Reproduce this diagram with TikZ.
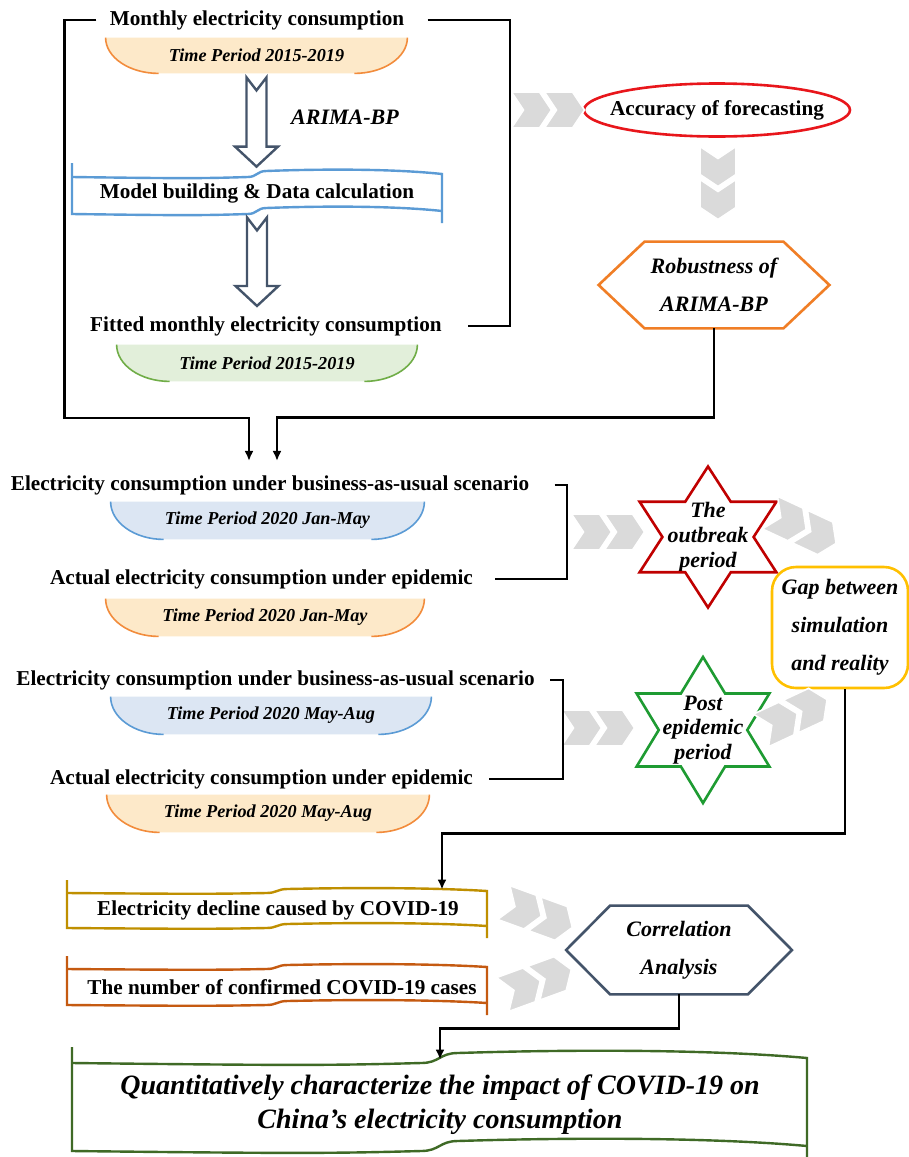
\documentclass[tikz,border=0pt]{standalone}
\usepackage{fontspec}
\setmainfont{Liberation Serif}
\usetikzlibrary{calc,arrows.meta,backgrounds}

\definecolor{tabor}{HTML}{FDE9C9}
\definecolor{tabors}{HTML}{F28C3C}
\definecolor{tabbl}{HTML}{DCE6F3}
\definecolor{tabbls}{HTML}{5B9BD5}
\definecolor{tabgr}{HTML}{E2EFDA}
\definecolor{tabgrs}{HTML}{70AD47}
\definecolor{slate}{HTML}{44546A}
\definecolor{chevgray}{HTML}{DADADA}
\definecolor{accred}{HTML}{E8161B}
\definecolor{robor}{HTML}{F07E26}
\definecolor{starred}{HTML}{C00000}
\definecolor{stargreen}{HTML}{1E9B32}
\definecolor{gapgold}{HTML}{FFC000}
\definecolor{declgold}{HTML}{BF8F00}
\definecolor{numorange}{HTML}{C55A11}
\definecolor{finalgreen}{HTML}{3F6A26}

\tikzset{
  link/.style={draw=black, line width=1.2pt},
  linkarrow/.style={link, -{Latex[length=5pt,width=4.5pt]}},
  hollow/.style={draw=slate, line width=1.2pt, fill=white},
  waveline/.style={line width=1.2pt},
  tabline/.style={line width=0.8pt},
  shapeline/.style={line width=1.3pt},
  boldtext/.style={font=\bfseries\fontsize{10.6}{13}\selectfont, inner xsep=6.5pt, inner ysep=3pt},
  tabtext/.style={font=\bfseries\itshape\fontsize{9.1}{11}\selectfont, inner sep=0pt},
  nodetext/.style={font=\bfseries\itshape\fontsize{11}{19}\selectfont, align=center, inner sep=0pt},
  startext/.style={font=\bfseries\itshape\fontsize{11}{12.4}\selectfont, align=center, inner sep=0pt},
  finaltext/.style={font=\bfseries\itshape\fontsize{14}{17}\selectfont, align=center, inner sep=0pt},
  chevpair/.pic={
    \foreach \a in {-36.5,-3.5}
      \filldraw[fill=chevgray, draw=white, line width=0.8pt]
        (\a,-18) -- ({\a+28},-18) -- ({\a+40},0) -- ({\a+28},18) -- (\a,18) -- ({\a+12},0) -- cycle;
  },
}

% tab under a period label
\newcommand{\tabframe}[3]{%
  \fill[#2] (#1.north west) -- (#1.north east)
    .. controls ($(#1.east)+(0,2)$) and ($(#1.south east)+(-24,0)$) .. ($(#1.south east)+(-53,0)$)
    -- ($(#1.south west)+(53,0)$)
    .. controls ($(#1.south west)+(24,0)$) and ($(#1.west)+(0,2)$) .. (#1.north west) -- cycle;
  \draw[#3, tabline] (#1.north east)
    .. controls ($(#1.east)+(0,2)$) and ($(#1.south east)+(-24,0)$) .. ($(#1.south east)+(-53,0)$);
  \draw[#3, tabline] ($(#1.south west)+(53,0)$)
    .. controls ($(#1.south west)+(24,0)$) and ($(#1.west)+(0,2)$) .. (#1.north west);}

% wavy banner: left, right, top, bottom, amplitude, colour
\newcommand{\waveframe}[6]{%
  \pgfmathsetmacro{\wfmid}{(#1+#2)/2}
  \pgfmathsetmacro{\wfwid}{#2-#1}
  \draw[#6, waveline] (#1,{#3-11}) -- (#1,{#4+#5})
    .. controls ({#1+0.3*\wfwid},{#4+1.5*#5}) and ({\wfmid-0.15*\wfwid},{#4+1.5*#5}) .. ({\wfmid-0.025*\wfwid},{#4+#5})
    .. controls (\wfmid,{#4+#5}) and (\wfmid,{#4-#5}) .. ({\wfmid+0.025*\wfwid},{#4-#5})
    .. controls ({\wfmid+0.2*\wfwid},{#4-1.8*#5}) and ({#2-0.12*\wfwid},{#4-1.6*#5}) .. (#2,#4);
  \draw[#6, waveline] (#1,{#3+#5})
    .. controls ({#1+0.3*\wfwid},{#3+1.5*#5}) and ({\wfmid-0.15*\wfwid},{#3+1.5*#5}) .. ({\wfmid-0.025*\wfwid},{#3+#5})
    .. controls (\wfmid,{#3+#5}) and (\wfmid,{#3-#5}) .. ({\wfmid+0.025*\wfwid},{#3-#5})
    .. controls ({\wfmid+0.2*\wfwid},{#3-1.8*#5}) and ({#2-0.12*\wfwid},{#3-1.6*#5}) .. (#2,#3)
    -- (#2,{#4+12});}

% hexagon round a node
\newcommand{\hexframe}[3]{%
  \draw[#3, shapeline] (#1.north west) -- (#1.north east) -- ([xshift=#2]#1.east)
    -- (#1.south east) -- (#1.south west) -- ([xshift=-#2]#1.west) -- cycle;}

% six-point star round a node
\newcommand{\starframe}[4]{%
  \pgfmathsetmacro{\sfin}{#2/sqrt(3)}
  \draw[#4, shapeline, shift={(#1.center)}, xscale=#3]
    (90:#2) -- (60:\sfin) -- (30:#2) -- (0:\sfin) -- (-30:#2) -- (-60:\sfin)
    -- (-90:#2) -- (-120:\sfin) -- (-150:#2) -- (180:\sfin) -- (150:#2) -- (120:\sfin) -- cycle;}

% hollow block arrow
\newcommand{\hollowarrow}[2]{%
  \draw[hollow] let \p1=(#1), \p2=(#2) in
    (\x1-5pt,\y1) -- (\x1,\y1-6.5pt) -- (\x1+5pt,\y1) -- (\x1+5pt,\y2+10pt)
    -- (\x1+10.75pt,\y2+10pt) -- (\x1,\y2) -- (\x1-10.75pt,\y2+10pt) -- (\x1-5pt,\y2+10pt) -- cycle;}

\begin{document}
\begin{tikzpicture}[x=0.5pt, y=-0.5pt]
  \useasboundingbox (0,0) rectangle (909,1157);

  % fitting stage
  \node[boldtext] (monthly) at (257,20) {Monthly electricity consumption};
  \node[tabtext, minimum width=150.5pt, minimum height=17.5pt] (tab1) at (256.5,55.5) {Time Period 2015-2019};
  \node[nodetext] (arimalabel) at (345,117) {ARIMA-BP};
  \node[boldtext, minimum width=185pt, minimum height=26pt] (model) at (257,193) {Model building \& Data calculation};
  \node[boldtext] (fitted) at (266,326) {Fitted monthly electricity consumption};
  \node[tabtext, minimum width=150pt, minimum height=18pt] (tab2) at (267,363) {Time Period 2015-2019};
  \waveframe{72}{442}{174}{211}{3}{tabbls}
  \hollowarrow{$(tab1.south)+(0,4)$}{model.north}
  \hollowarrow{$(model.south)+(0,-2)$}{$(fitted.north)+(0,-4)$}

  % checking
  \node[boldtext] (acc) at (717,110) {Accuracy of forecasting};
  \draw[accred, shapeline] (acc) ellipse [x radius=66.5pt, y radius=13.25pt];
  \node[nodetext, minimum width=69pt, minimum height=43pt] (robust) at (714,285) {Robustness of\\ARIMA-BP};
  \hexframe{robust}{23pt}{robor}
  \pic at (548,110) {chevpair};
  \pic[rotate=-90] at (718,183) {chevpair};

  % scenarios
  \node[boldtext] (bau1) at (270,485) {Electricity consumption under business-as-usual scenario};
  \node[tabtext, minimum width=156.5pt, minimum height=18.5pt] (tab3) at (267.5,520.5) {Time Period 2020 Jan-May};
  \node[boldtext] (act1) at (261.5,579) {Actual electricity consumption under epidemic};
  \node[tabtext, minimum width=159pt, minimum height=18.5pt] (tab4) at (265,617.5) {Time Period 2020 Jan-May};
  \node[boldtext] (bau2) at (275.5,680) {Electricity consumption under business-as-usual scenario};
  \node[tabtext, minimum width=160pt, minimum height=18.5pt] (tab5) at (271,715.5) {Time Period 2020 May-Aug};
  \node[boldtext] (act2) at (261.5,779) {Actual electricity consumption under epidemic};
  \node[tabtext, minimum width=161pt, minimum height=18.5pt] (tab6) at (268,813.5) {Time Period 2020 May-Aug};

  \node[startext] (outbreak) at (708,537) {The\\outbreak\\period};
  \starframe{outbreak}{70.5}{1.12}{starred}
  \node[startext] (postep) at (703,730) {Post\\epidemic\\period};
  \starframe{postep}{73}{1.05}{stargreen}
  \node[nodetext, draw=gapgold, shapeline, rounded corners=12pt, minimum width=68pt, minimum height=60.5pt] (gap) at (840,627.5) {Gap between\\simulation\\and reality};
  \pic at (608,532) {chevpair};
  \pic[rotate=-25] at (803,528) {chevpair};
  \pic at (598,728) {chevpair};
  \pic[rotate=25] at (794,715) {chevpair};

  % correlation
  \node[boldtext, minimum height=20pt] (decline) at (278,910) {Electricity decline caused by COVID-19};
  \waveframe{67}{487}{891}{926}{2}{declgold}
  \node[boldtext] (cases) at (282,987) {The number of confirmed COVID-19 cases};
  \waveframe{67}{487}{967}{1003}{2}{numorange}
  \node[nodetext, minimum width=68.5pt, minimum height=44pt] (corr) at (679,950) {Correlation\\Analysis};
  \hexframe{corr}{22pt}{slate}
  \pic[rotate=-20] at (538,915) {chevpair};
  \pic[rotate=20] at (537,982) {chevpair};
  \node[finaltext, minimum width=367.5pt, minimum height=45pt] (final) at (440,1105) {Quantitatively characterize the impact of COVID-19 on\\China’s electricity consumption};
  \waveframe{72}{807}{1058}{1146}{5}{finalgreen}

  % connectors
  \draw[linkarrow] (monthly.west) -- ++(-32,0) -- ++(0,398) -| ($(bau1.north)+(-21,-8)$);
  \draw[link] ($(monthly.east)+(10,0)$) -| ($(fitted.east)+(55,0)$) -- ($(fitted.east)+(13,0)$);
  \draw[linkarrow] (robust.south) -- ++(0,89) -| ($(bau1.north)+(7,-8)$);
  \draw[link] ($(bau1.east)+(12,0)$) -| ($(act1.east)+(81,0)$) -- ($(act1.east)+(9,0)$);
  \draw[link] ($(bau2.east)+(2,0)$) -| ($(act2.east)+(77,0)$) -- ($(act2.east)+(3,0)$);
  \draw[linkarrow] ($(gap.south)+(5,0)$) -- ++(0,144) -| ($(decline.north)+(164,0)$);
  \draw[linkarrow] (corr.south) -- ++(0,34) -| (final.north);

  \begin{scope}[on background layer]
    \fill[white] (0,0) rectangle (909,1157);
    \tabframe{tab1}{tabor}{tabors}
    \tabframe{tab2}{tabgr}{tabgrs}
    \tabframe{tab3}{tabbl}{tabbls}
    \tabframe{tab4}{tabor}{tabors}
    \tabframe{tab5}{tabbl}{tabbls}
    \tabframe{tab6}{tabor}{tabors}
  \end{scope}
\end{tikzpicture}
\end{document}
